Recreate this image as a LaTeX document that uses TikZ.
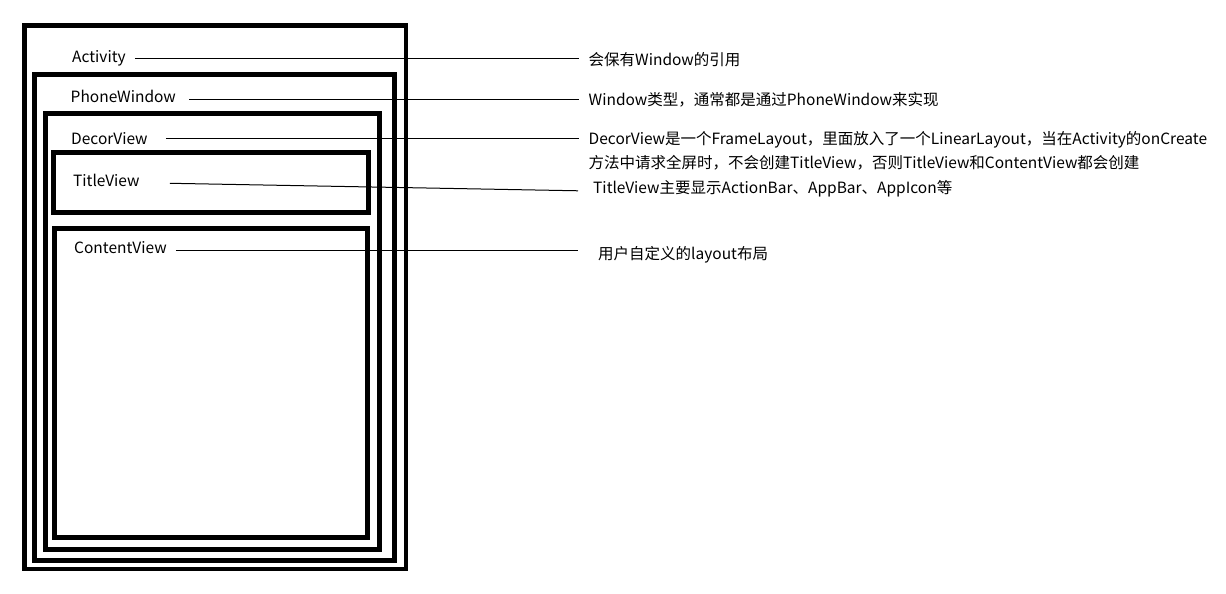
\documentclass[tikz,border=0pt]{standalone}
\usepackage{fontspec}
\setmainfont{Noto Sans CJK SC}
\begin{document}
\begin{tikzpicture}[x=1pt, y=-1pt,
  frame/.style={line width=4.7pt},
  lead/.style={line width=1pt},
  lbl/.style={anchor=base west, inner sep=0pt, font=\fontsize{15.5}{20}\selectfont}]
  \useasboundingbox (0,0) rectangle (1226,594);
  % nested frames
  \draw[frame] (24.5,25.8) rectangle (406,569);
  \draw[frame] (34.3,74.2) rectangle (394.3,560.3);
  \draw[frame] (45.5,113.8) rectangle (379.2,549.5);
  \draw[frame] (53.3,152.7) rectangle (368.3,212.3);
  \draw[frame] (54.5,228.3) rectangle (367.7,537.5);
  % labels
  \node[lbl] (act) at (72,63) {Activity};
  \node[lbl] (phw) at (70.5,102.7) {PhoneWindow};
  \node[lbl] (dec) at (71,144) {DecorView};
  \node[lbl] (tit) at (73,186) {TitleView};
  \node[lbl] (con) at (74,253) {ContentView};
  % notes
  \node[lbl] (actnote) at (588.5,65.5) {会保有Window的引用};
  \node[lbl] (phwnote) at (588.5,105.5) {Window类型，通常都是通过PhoneWindow来实现};
  \node[lbl] (decnote) at (588.5,144) {DecorView是一个FrameLayout，里面放入了一个LinearLayout，当在Activity的onCreate};
  \node[lbl] (decnote2) at (588.5,168.5) {方法中请求全屏时，不会创建TitleView，否则TitleView和ContentView都会创建};
  \node[lbl] (titnote) at (593,193.5) {TitleView主要显示ActionBar、AppBar、AppIcon等};
  \node[lbl] (connote) at (598,259) {用户自定义的layout布局};
  % leaders
  \draw[lead] ([xshift=9,yshift=1.5]act.mid east) -- ([xshift=-10,yshift=1.5]act.mid east -| actnote.west);
  \draw[lead] ([xshift=13]phw.mid east) -- ([xshift=-10]phw.mid east -| phwnote.west);
  \draw[lead] ([xshift=18,yshift=3]dec.mid east) -- ([xshift=-10,yshift=3]dec.mid east -| decnote.west);
  \draw[lead] ([xshift=30]tit.mid east) -- ([xshift=-15]titnote.mid west);
  \draw[lead] ([xshift=9]con.mid east) -- ([xshift=-20]con.mid east -| connote.west);
\end{tikzpicture}
\end{document}
